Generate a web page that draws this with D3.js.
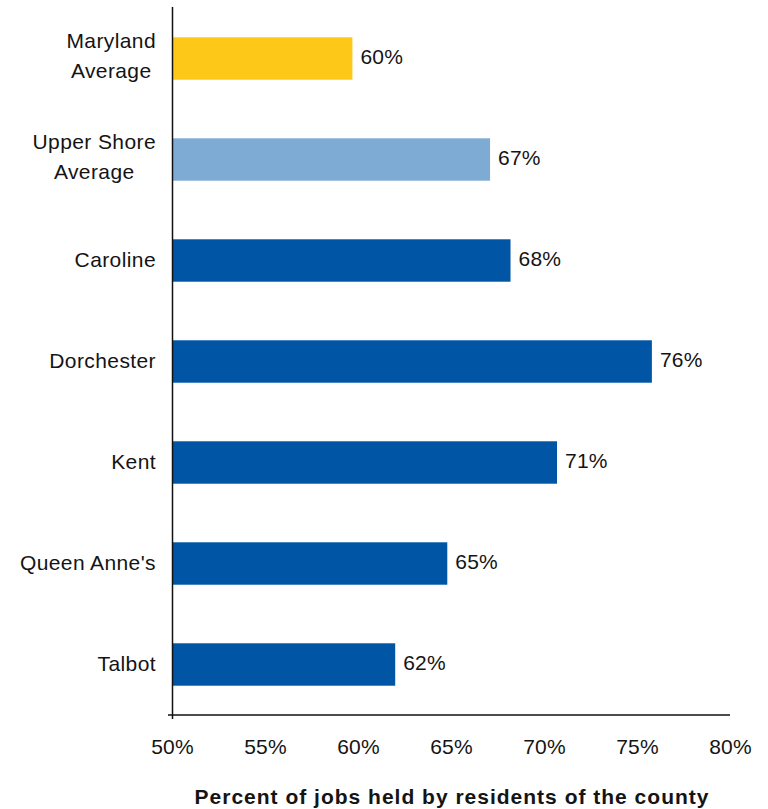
<!DOCTYPE html>
<html>
<head>
<meta charset="utf-8">
<script src="https://cdn.jsdelivr.net/npm/d3@7"></script>
<style>
  body { margin: 0; background: #fff; }
  text { font-family: "Liberation Sans", Arial, sans-serif; fill: #141414; }
</style>
</head>
<body>
<div class="chart"></div>
<script>
var categories = [["Maryland", "Average"], ["Upper Shore", "Average"], ["Caroline"], ["Dorchester"], ["Kent"], ["Queen Anne's"], ["Talbot"]];
var values = [59.7, 67.1, 68.2, 75.8, 70.7, 64.8, 62.0];
var valueLabels = ["60%", "67%", "68%", "76%", "71%", "65%", "62%"];
var barColors = ["#fdc817", "#7eabd3", "#0055a4", "#0055a4", "#0055a4", "#0055a4", "#0055a4"];
var tickValues = [50, 55, 60, 65, 70, 75, 80];
var xTitle = "Percent of jobs held by residents of the county";

var svgWidth = 768;
var svgHeight = 809;

var svg = d3.select(".chart")
    .append("svg")
    .attr("width", svgWidth)
    .attr("height", svgHeight);

var xScale = d3.scaleLinear().domain([50, 80]).range([172, 730]);
var yScale = d3.scaleBand()
    .domain(d3.range(categories.length))
    .range([8, 715])
    .paddingInner(0.58)
    .paddingOuter(0.29);

// bars
svg.selectAll("rect.bar")
    .data(values)
    .enter()
    .append("rect")
    .attr("class", "bar")
    .attr("x", xScale(50))
    .attr("y", function (d, i) { return yScale(i); })
    .attr("width", function (d) { return xScale(d) - xScale(50); })
    .attr("height", yScale.bandwidth())
    .attr("fill", function (d, i) { return barColors[i]; });

// value labels
svg.selectAll("text.val")
    .data(values)
    .enter()
    .append("text")
    .attr("class", "val")
    .attr("x", function (d) { return xScale(d) + 8; })
    .attr("y", function (d, i) { return yScale(i) + yScale.bandwidth() / 2 - 2.5; })
    .attr("dominant-baseline", "central")
    .attr("font-size", "21px")
    .attr("letter-spacing", "0.2px")
    .text(function (d, i) { return valueLabels[i]; });

// category labels, multi-line blocks centred, right edge at 156
categories.forEach(function (lines, i) {
    var cy = yScale(i) + yScale.bandwidth() / 2;
    var g = svg.append("text")
        .attr("font-size", "21px")
        .attr("letter-spacing", "0.4px")
        .attr("text-anchor", "middle");
    var off = lines.length > 1 ? -3.5 : -1;
    var spans = lines.map(function (line, j) {
        return g.append("tspan")
            .attr("y", cy + (j - (lines.length - 1) / 2) * 30 + off)
            .attr("dominant-baseline", "central")
            .text(line);
    });
    var maxW = d3.max(spans, function (s) { return s.node().getComputedTextLength(); });
    spans.forEach(function (s) { s.attr("x", 156 - maxW / 2); });
});

// x axis
var xAxis = d3.axisBottom(xScale)
    .tickValues(tickValues)
    .tickSize(0)
    .tickPadding(24)
    .tickFormat(function (d) { return d + "%"; });

var gx = svg.append("g")
    .attr("transform", "translate(0,715)")
    .call(xAxis);
gx.select(".domain").remove();
gx.selectAll("text")
    .attr("font-size", "21px")
    .attr("letter-spacing", "0.2px")
    .attr("font-family", "Liberation Sans, Arial, sans-serif")
    .attr("fill", "#141414");

svg.append("line")
    .attr("x1", 168).attr("x2", 730)
    .attr("y1", 715).attr("y2", 715)
    .attr("stroke", "#111").attr("stroke-width", 1.5);

svg.append("line")
    .attr("x1", 172.5).attr("x2", 172.5)
    .attr("y1", 7).attr("y2", 719)
    .attr("stroke", "#111").attr("stroke-width", 1.5);

svg.append("text")
    .attr("x", 452)
    .attr("y", 804)
    .attr("text-anchor", "middle")
    .attr("font-size", "21px")
    .attr("font-weight", "bold")
    .attr("letter-spacing", "1px")
    .text(xTitle);
</script>
</body>
</html>
